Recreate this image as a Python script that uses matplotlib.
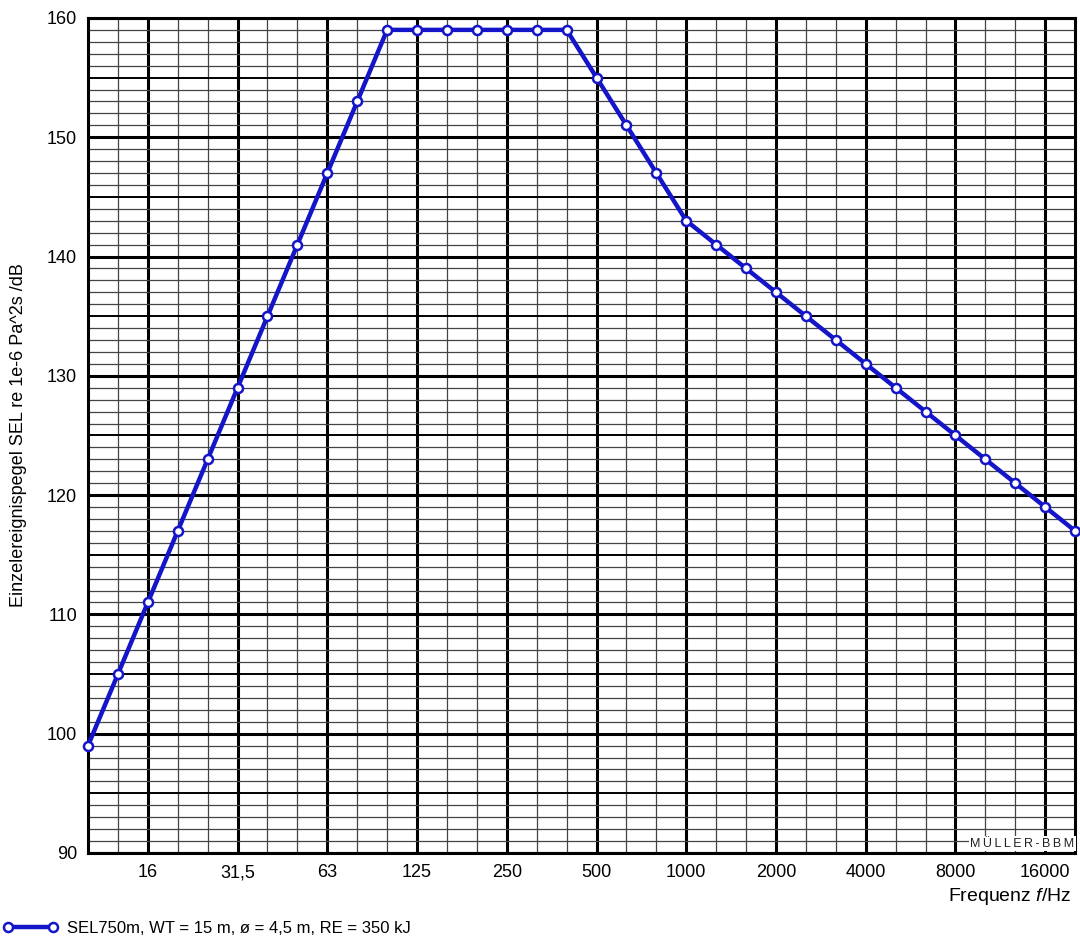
import matplotlib
matplotlib.use("Agg")
import matplotlib.pyplot as plt
import numpy as np

plt.rcParams['font.family'] = ['Liberation Sans', 'DejaVu Sans']
plt.rcParams['mathtext.fontset'] = 'custom'
plt.rcParams['mathtext.it'] = 'Liberation Sans:italic'
plt.rcParams['mathtext.rm'] = 'Liberation Sans'

# third-octave bands 10 Hz .. 20 kHz
freqs = [10, 12.5, 16, 20, 25, 31.5, 40, 50, 63, 80, 100, 125, 160, 200, 250,
         315, 400, 500, 630, 800, 1000, 1250, 1600, 2000, 2500, 3150, 4000,
         5000, 6300, 8000, 10000, 12500, 16000, 20000]
sel = [99, 105, 111, 117, 123, 129, 135, 141, 147, 153, 159, 159, 159, 159, 159,
       159, 159, 155, 151, 147, 143, 141, 139, 137, 135, 133, 131,
       129, 127, 125, 123, 121, 119, 117]
octave_labels = ["16", "31,5", "63", "125", "250", "500", "1000", "2000",
                 "4000", "8000", "16000"]
octave_freqs = [16, 31.5, 63, 125, 250, 500, 1000, 2000, 4000, 8000, 16000]

xpos = np.arange(len(freqs))
oct_pos = [freqs.index(f) for f in octave_freqs]

fig = plt.figure(figsize=(10.8, 9.4), dpi=100)
ax = fig.add_axes([0.0815, 0.0926, 0.914, 0.8883])

ax.set_xlim(0, len(freqs) - 1)
ax.set_ylim(90, 160)

# grid
for i in xpos:
    if i in oct_pos:
        ax.axvline(i, color='black', lw=2.2, zorder=1)
    else:
        ax.axvline(i, color='#444444', lw=0.9, zorder=1)
for y in range(90, 161):
    if y % 10 == 0:
        ax.axhline(y, color='black', lw=2.2, zorder=1)
    elif y % 5 == 0:
        ax.axhline(y, color='black', lw=1.4, zorder=1)
    else:
        ax.axhline(y, color='#444444', lw=0.9, zorder=1)

ax.plot(xpos, sel, color='#1414c8', lw=3.2, marker='o', ms=6.5,
        mfc='white', mec='#1414c8', mew=1.8, zorder=3, clip_on=False,
        label='SEL750m, WT = 15 m, ø = 4,5 m, RE = 350 kJ')

ax.set_xticks(oct_pos)
ax.set_xticklabels(octave_labels)
ax.set_yticks(range(90, 161, 10))
ax.tick_params(length=0, labelsize=13, pad=8)
for s in ax.spines.values():
    s.set_linewidth(2.2)

ax.set_ylabel('Einzelereignispegel SEL re 1e-6 Pa^2s /dB', fontsize=13, labelpad=14)
fig.text(0.992, 0.046, 'Frequenz $\\it{f}$/Hz', ha='right', va='center', fontsize=14)

ax.text(0.999, 0.004, '\u2009'.join('MÜLLER-BBM'), transform=ax.transAxes,
        ha='right', va='bottom', fontsize=9, color='#222222', zorder=5,
        bbox=dict(facecolor='white', edgecolor='none', pad=1.0))

fig.legend(loc='lower left', bbox_to_anchor=(-0.003, -0.003), frameon=False,
           fontsize=12, numpoints=2, handlelength=3.3, handletextpad=0.5,
           borderaxespad=0.2, borderpad=0.2)

fig.savefig('out.png', dpi=100)
